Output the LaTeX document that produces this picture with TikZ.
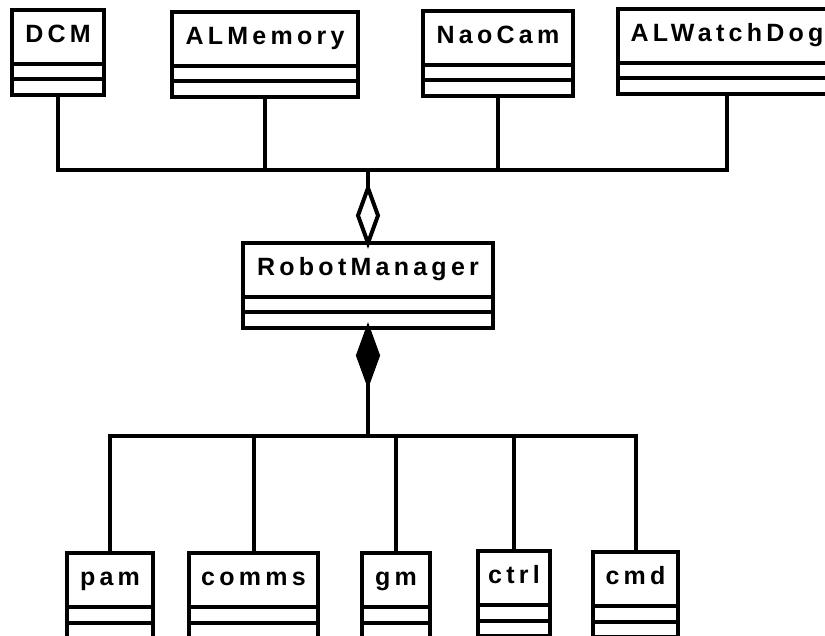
\documentclass[tikz,border=0pt]{standalone}
\usepackage{fontspec}
\newfontfamily\umlfont{Liberation Sans}[LetterSpace=17]

\tikzset{
  classname/.style={draw, line width=4pt, outer sep=0pt, inner sep=0pt,
    minimum height=54pt, text height=20pt, text depth=9pt,
    font=\umlfont\bfseries\fontsize{25}{29}\selectfont},
  classpart/.style={draw, line width=4pt, outer sep=0pt, inner sep=0pt,
    minimum height=15.5pt},
  link/.style={line width=4pt},
  hollowdiamond/.style={link, fill=white},
  soliddiamond/.style={link, fill=black},
}

% UML class box: #1 name, #2 label, #3 centre x, #4 top y, #5 width
\newcommand\umlclass[5]{%
  \node[classname, minimum width=#5, anchor=north] (#1) at (#3,#4) {#2};
  \node[classpart, minimum width=#5, anchor=north] (#1-attr) at (#1.south) {};
  \node[classpart, minimum width=#5, anchor=north] (#1-ops) at (#1-attr.south) {};
}

\begin{document}
\begin{tikzpicture}[x=1pt, y=-1pt]
  \useasboundingbox (0,0) rectangle (825,636);
  \fill[white] (0,0) rectangle (825,636);
  \clip (0,0) rectangle (825,636);

  % used modules
  \umlclass{dcm}{DCM}{58}{10}{92}
  \umlclass{almemory}{ALMemory}{265}{12}{186}
  \umlclass{naocam}{NaoCam}{498}{11}{150}
  \umlclass{alwatchdog}{ALWatchDog}{727}{9}{218}

  % manager
  \umlclass{rm}{RobotManager}{368}{243}{250}

  % owned parts
  \umlclass{pam}{pam}{110}{553}{86}
  \umlclass{comms}{comms}{253.5}{553}{129}
  \umlclass{gm}{gm}{396}{553}{68}
  \umlclass{ctrl}{ctrl}{514}{551}{72}
  \umlclass{cmd}{cmd}{635.5}{552}{85}

  % junction points of the two trees
  \path (rm.north) ++(0,-73) coordinate (upbus);
  \path (rm-ops.south) ++(0,108) coordinate (downbus);

  % aggregation: open diamond on the manager
  \draw[hollowdiamond] (rm.north) -- ++(10,-27.5) -- ++(-10,-27.5) coordinate (aggtop)
    -- ++(-10,27.5) -- cycle;
  \draw[link] (dcm-ops.south) |- (upbus);
  \draw[link] (almemory-ops.south) |- (upbus);
  \draw[link] (naocam-ops.south) |- (upbus);
  \draw[link] (alwatchdog-ops.south) |- (upbus);
  \draw[link] (upbus) -- (aggtop);

  % composition: filled diamond on the manager
  \draw[soliddiamond] (rm-ops.south) -- ++(10,27.5) -- ++(-10,27.5) coordinate (comptip)
    -- ++(-10,-27.5) -- cycle;
  \draw[link] (comptip) -- (downbus);
  \draw[link] (pam.north) |- (downbus);
  \draw[link] (comms.north) |- (downbus);
  \draw[link] (gm.north) |- (downbus);
  \draw[link] (ctrl.north) |- (downbus);
  \draw[link] (cmd.north) |- (downbus);
\end{tikzpicture}
\end{document}
